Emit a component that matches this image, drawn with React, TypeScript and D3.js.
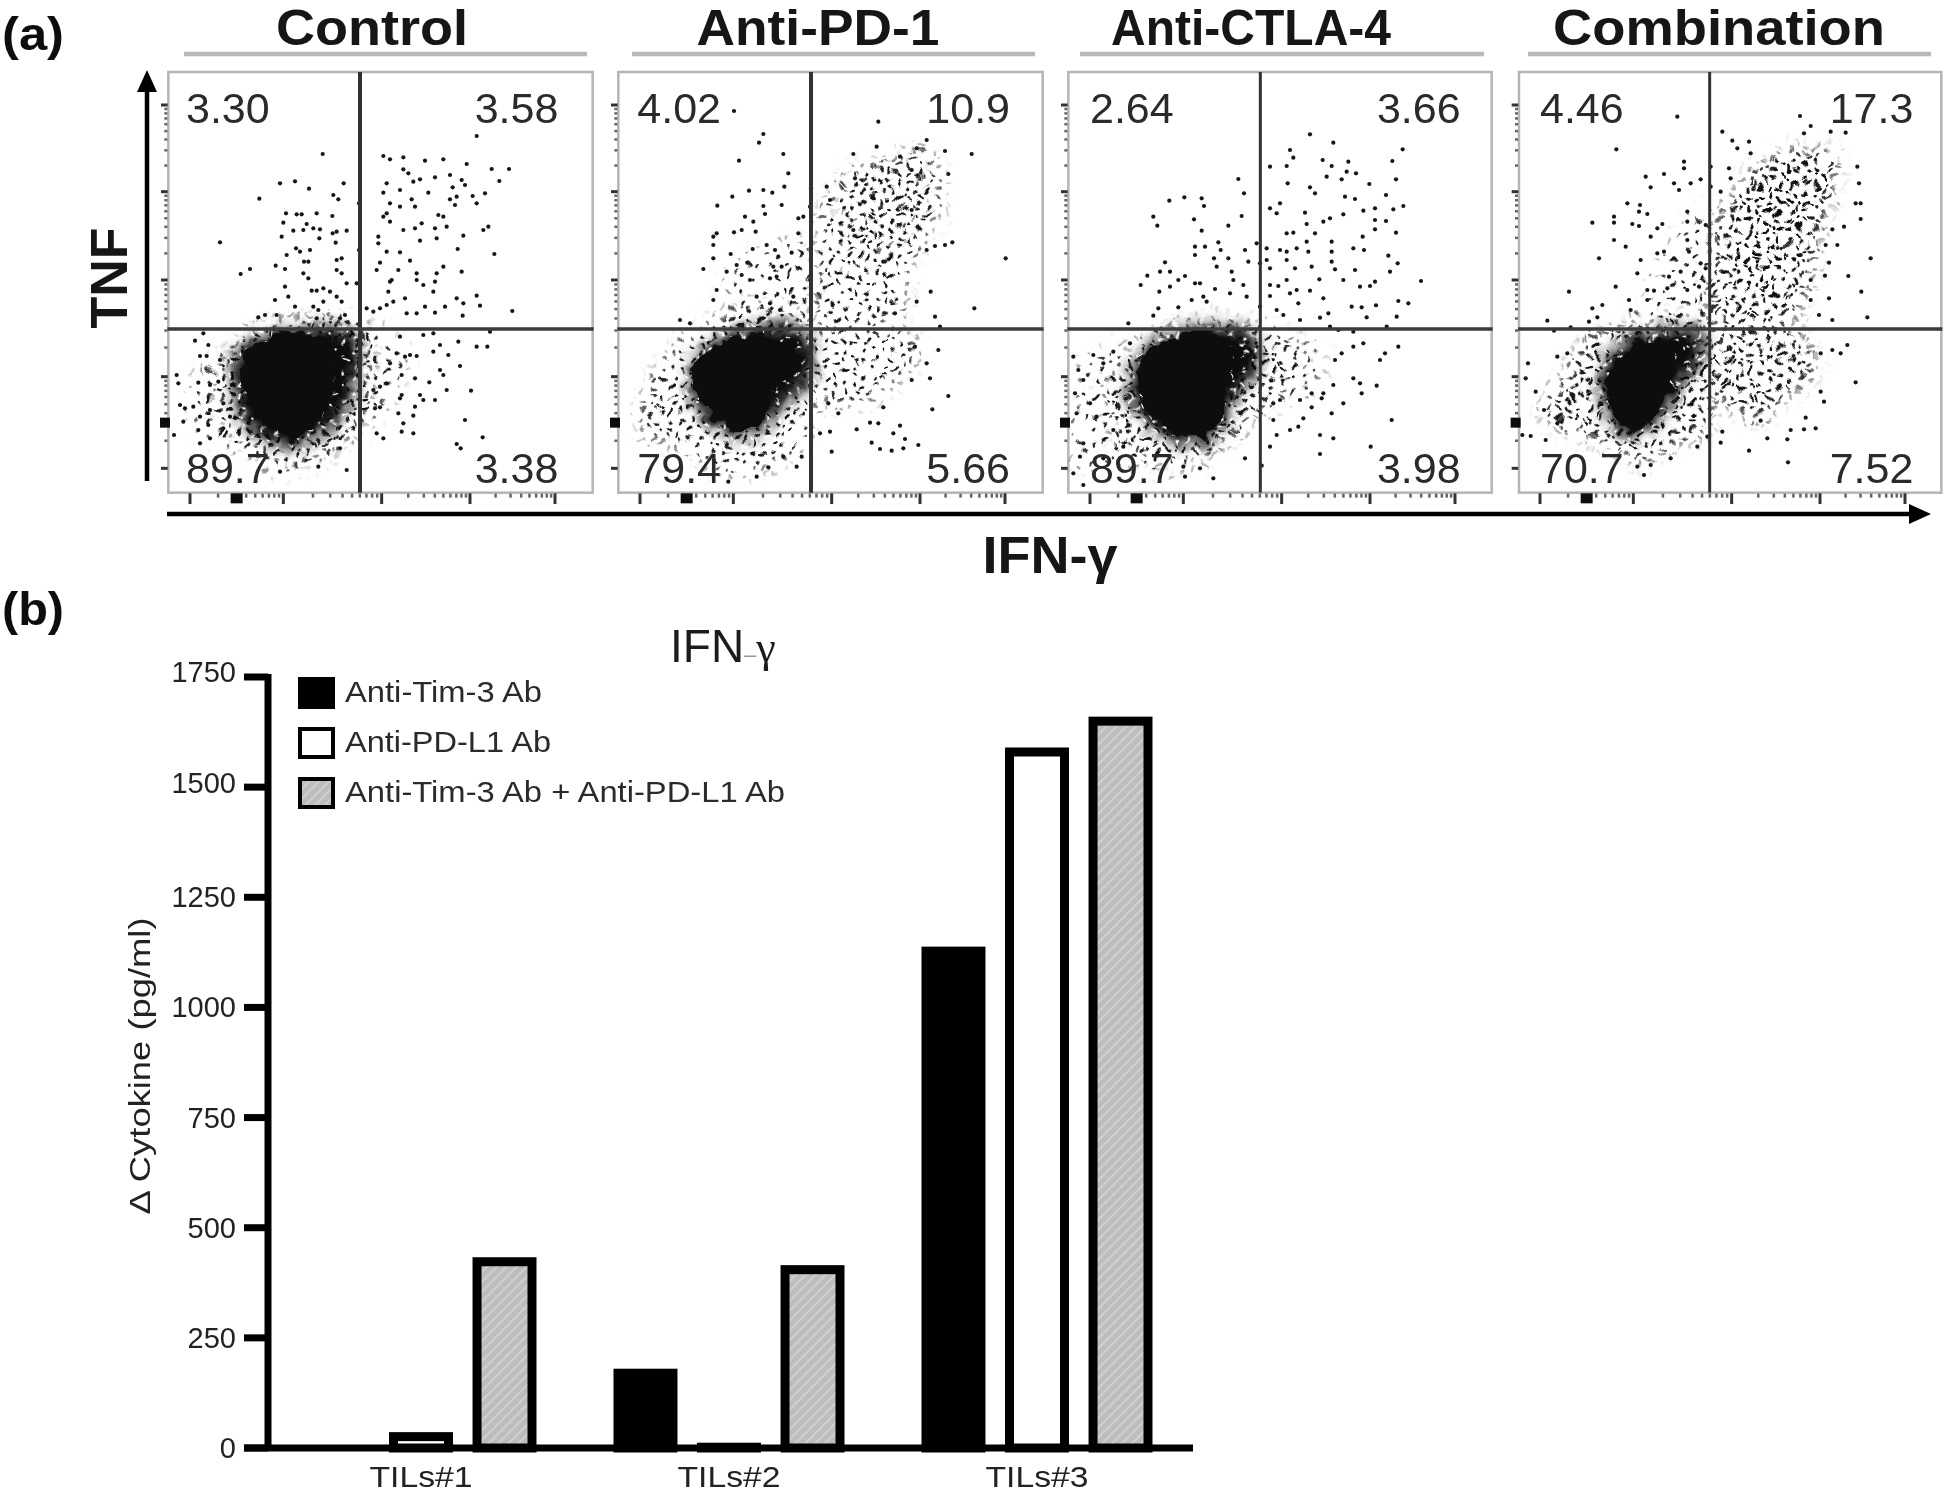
import React from "react";
import * as d3 from "d3";

type P = [number, number];

// ---------- Panel (a): flow plots. All readings are in "channel" units of a 1320x1440 plot frame ----------
const panelNames = ["Control", "Anti-PD-1", "Anti-CTLA-4", "Combination"];
const panelTitleCentres = [372, 818, 1251, 1719];
const panelTitleWidths = [192, 243, 280, 332];
const titleRuleStart = [184, 632, 1080, 1528];
const titleRuleEnd = [587, 1035, 1484, 1931];
const frameLeft = [160, 610, 1060, 1504];
const boxLeft = [25, 25, 25, 45];
const boxRight = [1298, 1298, 1295, 1312];
const gateX = [600, 603, 601, 617];
const gateY = 777;
const boxTop = 6;
const boxBottom = 1268;
const quadUL = ["3.30", "4.02", "2.64", "4.46"];
const quadUR = ["3.58", "10.9", "3.66", "17.3"];
const quadLL = ["89.7", "79.4", "89.7", "70.7"];
const quadLR = ["3.38", "5.66", "3.98", "7.52"];
const labelLeft = [78, 82, 90, 108];
const labelRight = [1195, 1200, 1202, 1228];
const yDecades = [105, 365, 630, 920, 1195];
const xDecades = [90, 370, 665, 930, 1185];
const tickShift = [0, 0, 0, 18];

const controlCore: P[] = [[250, 860], [330, 805], [450, 790], [510, 820], [525, 900], [510, 985], [470, 1060], [420, 1100], [350, 1085], [285, 1030], [245, 950]];
const controlDense: P[] = [[225, 850], [320, 790], [560, 780], [600, 830], [585, 950], [545, 1040], [470, 1105], [400, 1135], [315, 1110], [245, 1050], [220, 960]];
const controlHalo: P[] = [[170, 930], [230, 820], [330, 760], [600, 755], [640, 850], [610, 1050], [500, 1150], [350, 1175], [240, 1110], [180, 1040]];
const controlSparse: P[] = [[90, 960], [190, 840], [320, 765], [610, 760], [740, 860], [680, 1000], [610, 1080], [480, 1180], [350, 1205], [240, 1150], [120, 1090]];

const pd1Core: P[] = [[265, 870], [370, 805], [480, 795], [565, 840], [555, 900], [500, 950], [460, 1050], [400, 1090], [335, 1060], [265, 985], [245, 920]];
const pd1Dense: P[] = [[235, 950], [265, 845], [370, 785], [560, 765], [605, 820], [595, 940], [505, 1020], [430, 1100], [350, 1090], [260, 1020]];
const pd1Sparse: P[] = [[90, 1030], [140, 900], [240, 790], [420, 700], [590, 750], [595, 1100], [470, 1195], [340, 1210], [200, 1130], [110, 1110]];
const pd1Upper: P[] = [[650, 395], [720, 300], [830, 270], [940, 235], [990, 300], [990, 430], [930, 540], [890, 640], [880, 730], [800, 765], [625, 765], [615, 600], [625, 450]];
const pd1UpperCore: P[] = [[720, 320], [900, 285], [945, 340], [900, 470], [810, 545], [710, 500]];
const pd1Lower: P[] = [[615, 790], [895, 790], [935, 850], [850, 945], [760, 1000], [650, 995], [615, 945]];
const pd1Left: P[] = [[350, 610], [480, 530], [595, 510], [595, 755], [390, 755]];

const ctlaCore: P[] = [[245, 870], [390, 785], [490, 800], [525, 865], [500, 965], [470, 1065], [420, 1110], [345, 1085], [280, 1025], [235, 950]];
const ctlaDense: P[] = [[205, 975], [235, 860], [390, 770], [570, 785], [600, 885], [525, 985], [480, 1090], [420, 1125], [320, 1105], [250, 1050]];
const ctlaHalo: P[] = [[130, 950], [220, 840], [400, 750], [590, 765], [740, 850], [690, 945], [600, 1020], [500, 1120], [350, 1175], [210, 1140], [140, 1050]];
const ctlaSparse: P[] = [[45, 1000], [70, 870], [210, 820], [300, 775], [595, 770], [775, 835], [770, 945], [620, 1030], [480, 1140], [340, 1210], [190, 1190], [60, 1190]];

const comboCore: P[] = [[335, 880], [405, 815], [500, 825], [520, 890], [490, 975], [445, 1050], [390, 1080], [330, 1035], [305, 960]];
const comboDense: P[] = [[285, 955], [315, 845], [400, 795], [590, 780], [600, 855], [535, 945], [460, 1060], [380, 1100], [315, 1050]];
const comboSparse: P[] = [[110, 1020], [180, 915], [255, 800], [390, 760], [605, 755], [610, 1080], [500, 1130], [410, 1180], [270, 1110], [150, 1070]];
const comboUpper: P[] = [[640, 440], [770, 280], [870, 240], [990, 250], [1000, 310], [955, 470], [925, 620], [850, 765], [627, 765], [627, 520]];
const comboUpperCore: P[] = [[780, 300], [950, 250], [990, 300], [925, 440], [825, 620], [705, 640], [695, 500]];
const comboLower: P[] = [[627, 790], [890, 790], [935, 900], [830, 1000], [770, 1055], [675, 1015], [627, 955]];
const comboLeft: P[] = [[420, 700], [505, 510], [607, 410], [607, 765], [380, 755]];

const controlDots: P[] = [
  [488,252],[360,340],[405,334],[447,356],[298,386],[551,340],[520,375],[535,388],[180,517],[378,430],[410,433],[425,433],[470,430],[517,438],[370,458],[440,462],[460,475],[400,482],[430,480],[480,478],[518,490],[530,485],[560,482],[365,500],[478,505],[527,518],[408,535],[420,545],[450,540],[380,555],[432,575],[445,575],[530,570],[545,565],[347,587],[375,597],[270,597],[242,612],[530,600],[545,610],[430,610],[445,625],[560,640],[375,650],[455,662],[470,662],[490,655],[510,665],[530,680],[545,695],[385,680],[345,690],[490,695],[405,710],[460,710],[475,720],[350,735],[295,742],[315,735],[470,745],[540,745],[555,735],[597,400],[597,540],[590,640],
  [950,198],[670,258],[690,268],[730,262],[795,272],[850,268],[920,282],[1047,297],[995,297],[730,298],[745,310],[780,328],[825,322],[870,315],[905,330],[915,345],[1018,333],[680,340],[760,335],[878,352],[720,360],[670,368],[805,368],[975,370],[938,378],[870,388],[890,380],[755,388],[720,410],[690,400],[885,405],[950,400],[765,410],[680,430],[835,435],[850,440],[670,440],[690,455],[785,460],[765,475],[825,475],[860,470],[730,480],[970,480],[985,470],[910,497],[655,500],[655,520],[780,512],[830,505],[680,545],[720,547],[750,572],[893,537],[1003,552],[660,578],[715,600],[770,610],[850,590],[830,610],[905,605],[650,600],[690,635],[695,630],[825,635],[770,630],[790,645],[820,665],[685,665],[950,677],[910,700],[960,707],[890,685],[735,685],[700,695],[680,705],[660,715],[1057,723],[825,728],[855,710],[795,710],[908,737],[740,730],[770,730],[640,725],[620,715],
  [735,860],[750,855],[770,858],[840,825],[820,845],[865,855],[900,888],[840,900],[850,915],[725,915],[765,925],[808,937],[950,830],[982,830],[860,960],[933,962],[780,975],[790,990],[725,975],[720,985],[825,990],[765,1010],[660,950],[640,960],[680,940],[645,1015],[660,1012],[760,1037],[715,1030],[915,1050],[730,1060],[968,1102],[890,1122],[902,1135],[760,1090],[725,1085],[650,1090],[670,1105],[690,880],[710,850],[990,785],[820,790],[790,795],[895,815],[720,800],
  [105,812],[130,790],[145,825],[120,858],[140,858],[180,870],[50,915],[55,940],[115,938],[150,945],[175,935],[60,1005],[75,1015],[150,1020],[120,1040],[145,1065],[115,1080],[150,1105],[120,1120],[42,1095],[560,1200],[475,1190],[540,1135],[360,1205],[70,1055],[100,1010],[190,1000],[210,1040],[190,1075],
];

const pd1Dots: P[] = [
  [372,123],[460,192],[447,218],[520,252],[387,272],[535,310],[417,362],[460,360],[487,368],[367,380],[523,350],[515,405],[322,407],[460,408],[465,432],[405,440],[430,455],[580,440],[565,445],[320,490],[310,500],[372,487],[395,480],[437,485],[565,490],[310,525],[428,537],[470,525],[495,540],[545,548],[362,552],[310,565],[505,560],[280,597],[380,585],[412,578],[350,605],[395,615],[420,630],[490,590],[515,590],[500,620],[480,625],[320,660],[310,690],[550,680],[440,680],[480,700],[510,720],[210,750],[240,760],
  [603,355],[600,410],[600,630],[805,155],[950,210],[1005,243],[1085,252],[1015,312],[1027,517],[1187,565],[1093,715],[962,665],[975,740],[990,770],[920,695],[1005,525],[975,528],[950,540],[730,252],[800,230],[870,260],[920,235],[735,325],[905,300],[820,575],[790,385],[905,420],[855,730],[730,480],[660,390],[650,350],
  [1015,978],[967,1018],[780,1058],[805,1060],[870,1067],[850,1090],[885,1107],[925,1125],[785,1118],[810,1137],[845,1142],[880,1135],[665,1145],[820,1012],[740,1078],[655,1000],[685,1030],[960,925],[905,930],[950,880],[985,840],[915,830],[630,1090],[660,1085],[575,1160],[560,1190],[520,1160],[475,1192],[440,1220],[355,1235],
];

const ctlaDots: P[] = [
  [535,327],[552,370],[328,392],[373,382],[425,385],[432,408],[280,440],[292,467],[402,448],[545,438],[505,467],[425,482],[475,517],[405,530],[435,530],[482,540],[405,555],[555,540],[462,565],[505,565],[315,577],[470,590],[565,575],[300,605],[330,605],[262,617],[375,618],[355,630],[515,605],[520,630],[420,640],[405,640],[242,645],[330,650],[298,665],[550,645],[465,657],[510,670],[430,680],[560,680],[395,690],[440,695],[355,712],[295,715],[280,737],[590,520],[600,580],[600,710],[205,760],
  [750,193],[820,218],[690,240],[1028,238],[700,263],[630,290],[680,288],[788,270],[865,275],[815,288],[997,273],[860,305],[888,310],[800,320],[845,328],[683,340],[1008,328],[928,342],[750,352],[765,370],[855,380],[978,375],[885,387],[660,400],[630,415],[650,430],[735,428],[945,415],[910,422],[1030,408],[1000,418],[850,433],[810,445],[790,455],[945,450],[978,453],[740,462],[945,478],[1008,488],[680,490],[700,488],[765,490],[740,515],[815,515],[908,500],[620,535],[660,540],[680,545],[710,535],[745,545],[880,535],[815,545],[912,540],[815,575],[985,557],[1013,580],[620,570],[680,570],[630,595],[705,595],[755,590],[885,600],[990,605],[825,598],[778,628],[850,630],[1083,633],[945,635],[930,648],[630,645],[680,630],[655,648],[710,660],[750,662],[790,685],[900,650],[690,670],[715,700],[630,678],[875,710],[905,712],[948,706],[1015,693],[1045,700],[920,742],[1010,740],[670,735],[720,750],[780,743],[805,730],[650,720],
  [835,780],[880,785],[980,770],[810,770],[910,820],[880,830],[845,850],[1015,830],[975,850],[960,870],[825,870],[880,925],[900,940],[950,947],[905,970],[820,945],[790,970],[755,970],[785,985],[850,1000],[815,1030],[755,1012],[720,990],[730,1045],[660,990],[640,1000],[640,1050],[995,1050],[715,1070],[690,1080],[780,1095],[820,1105],[650,1095],[630,1130],[932,1130],[780,1152],[605,1187],
  [40,860],[100,855],[160,845],[210,820],[55,900],[70,930],[130,880],[45,970],[90,1000],[50,1030],[110,1040],[70,1120],[160,1080],[190,1130],[60,1160],[130,1165],[40,1210],[70,1245],[370,1190],[420,1195],[375,1220],[460,1225],[555,1165],
];

const comboDots: P[] = [
  [520,140],[337,238],[888,138],[920,168],[655,185],[900,190],[980,185],[1025,188],[685,212],[735,215],[700,235],[540,275],[540,295],[620,290],[740,250],[675,295],[425,320],[480,312],[440,352],[510,340],[525,360],[560,340],[590,328],[620,350],[650,365],[680,325],[370,400],[408,405],[430,432],[405,425],[265,458],[330,440],[330,458],[385,462],[405,468],[460,475],[475,462],[550,455],[550,425],[605,465],[330,510],[440,500],[550,510],[365,530],[285,565],[460,550],[555,545],[410,570],[480,545],[510,565],[590,580],[400,610],[530,605],[495,620],[605,595],[335,650],[195,665],[430,660],[450,662],[490,655],[550,660],[585,650],[430,690],[295,705],[375,690],[265,715],[380,720],[130,752],[255,755],[280,742],[150,782],[200,772],
  [1060,290],[1065,340],[1055,400],[1070,400],[1070,447],[1020,470],[985,478],[965,525],[1000,525],[1100,565],[975,578],[1033,618],[963,617],[1072,665],[920,630],[975,685],[1090,742],[985,750],[920,690],[945,735],[890,555],
  [1030,825],[985,840],[1010,850],[950,850],[1055,937],[950,965],[960,995],[905,1043],[935,1075],[900,1078],[860,1080],[790,1105],[850,1108],[735,1142],[852,1177],[770,1052],[655,1085],[650,1118],[610,1100],[580,1130],[500,1165],[440,1185],[420,1215],[400,1190],[65,925],[72,880],[95,965],[55,1095],[80,1098],[125,1110],[160,1060],[120,1020],[190,850],[160,860],
];

const panelDots = [controlDots, pd1Dots, ctlaDots, comboDots];

// density areas per panel, drawn beneath the individual dots: [outline, shading]
const densityAreas: [P[], string][][] = [
  [[controlSparse, "sparse"], [controlHalo, "medium"], [controlDense, "dense"], [controlCore, "core"]],
  [[pd1Sparse, "light"], [pd1Left, "sparse"], [pd1Upper, "light"], [pd1Lower, "light"], [pd1UpperCore, "sparse"], [pd1Dense, "dense"], [pd1Core, "core"]],
  [[ctlaSparse, "sparse"], [ctlaHalo, "light"], [ctlaDense, "dense"], [ctlaCore, "core"]],
  [[comboSparse, "medium"], [comboLeft, "sparse"], [comboUpper, "medium"], [comboLower, "medium"], [comboUpperCore, "light"], [comboDense, "dense"], [comboCore, "core"]],
];

// hand-placed speckle tiles that shade the density areas
const speckleTile: P[] = [[3,5],[12,2],[22,7],[31,3],[41,6],[52,2],[60,8],[7,13],[17,15],[27,12],[36,14],[47,13],[57,16],[2,22],[13,24],[23,21],[33,25],[43,22],[53,26],[62,23],[8,31],[18,33],[28,30],[38,34],[48,31],[58,35],[4,41],[14,43],[24,40],[34,44],[44,41],[54,45],[61,40],[9,51],[20,53],[30,50],[40,54],[50,51],[59,55],[5,60],[16,62],[26,60],[37,62],[47,60],[56,63]];
const thinTile: P[] = [[5,6],[17,3],[29,8],[40,4],[11,15],[24,17],[36,14],[3,24],[16,27],[30,25],[42,28],[9,35],[22,38],[35,36]];
const fleckTile: P[] = [[5,4],[18,9],[30,3],[9,16],[25,18],[36,24],[3,27],[15,30],[28,33],[20,22],[33,12]];

// ---------- Panel (b): bars ----------
const groups = ["TILs#1", "TILs#2", "TILs#3"];
const seriesNames = ["Anti-Tim-3 Ab", "Anti-PD-L1 Ab", "Anti-Tim-3 Ab + Anti-PD-L1 Ab"];
const antiTim3 = [0, 180, 1138];
const antiPdl1 = [36, 12, 1590];
const combined = [433, 415, 1660];
const seriesValues = [antiTim3, antiPdl1, combined];
const yTicks = [0, 250, 500, 750, 1000, 1250, 1500, 1750];
const yTickNudge = [0, 0, 0, 0, 0, 0, -4, -5];

const sans = "'Liberation Sans', Arial, sans-serif";

export default function App() {
  const yB = d3.scaleLinear().domain([0, 1750]).range([1448, 677]);
  const xG = d3.scaleBand<string>().domain(groups).range([267, 1191]).paddingInner(0.25).paddingOuter(0.125);
  const xS = d3.scaleBand<string>().domain(seriesNames).range([0, xG.bandwidth()]).paddingInner(0.234);
  const yA = d3.scaleLinear().domain([0, 1440]).range([70, 550]);
  const blob = d3.line().curve(d3.curveCatmullRomClosed);
  const wall = 9;

  const layers: Record<string, string[]> = {
    sparse: ["url(#tThin)"],
    light: ["url(#tA)"],
    medium: ["url(#tA)", "url(#tThin)"],
    dense: ["url(#tFleck)"],
  };

  const tile = (id: string, size: number, dots: P[], r: number, rot: number, bg?: string, ink = "#111") => (
    <pattern key={id} id={id} width={size} height={size} patternUnits="userSpaceOnUse" patternTransform={`rotate(${rot})`}>
      {bg ? <rect width={size} height={size} fill={bg} /> : null}
      {dots.map((d, i) => <circle key={i} cx={d[0]} cy={d[1]} r={r} fill={ink} />)}
    </pattern>
  );

  return (
    <svg width={1944} height={1494} viewBox="0 0 1944 1494" style={{ position: "absolute", left: 0, top: 0, display: "block", background: "#fff" }} fontFamily={sans}>
      <defs>
        {tile("tA", 64, speckleTile, 2.0, -24)}
        {tile("tThin", 46, thinTile, 1.9, 31)}
        {tile("tFleck", 36, fleckTile, 1.8, 17, "#111", "#f2f2f2")}
        <pattern id="hatch" width={7} height={7} patternUnits="userSpaceOnUse" patternTransform="rotate(45)">
          <rect width={7} height={7} fill="#bdbdbd" />
          <rect width={2.2} height={7} fill="#cfcfcf" />
        </pattern>
        <filter id="soft" x="-2%" y="-2%" width="104%" height="104%"><feGaussianBlur stdDeviation={0.7} /></filter>
        <filter id="softB" x="-2%" y="-2%" width="104%" height="104%"><feGaussianBlur stdDeviation={0.55} /></filter>
        <filter id="feather" filterUnits="userSpaceOnUse" x={0} y={0} width={1944} height={600}><feGaussianBlur stdDeviation={7} /></filter>
        <filter id="rough" filterUnits="userSpaceOnUse" x={0} y={0} width={1944} height={600}>
          <feTurbulence type="fractalNoise" baseFrequency={0.07} numOctaves={2} seed={7} result="n" />
          <feDisplacementMap in="SourceGraphic" in2="n" scale={16} xChannelSelector="R" yChannelSelector="G" />
        </filter>
      </defs>

      <g filter="url(#soft)">
        <text x={2} y={50} fontSize={46} fontWeight={700} fill="#111" textLength={62} lengthAdjust="spacingAndGlyphs">(a)</text>

        {panelNames.map((name, i) => {
          const xA = d3.scaleLinear().domain([0, 1320]).range([frameLeft[i], frameLeft[i] + 440]);
          const shift = tickShift[i];
          const xMinor = xDecades.slice(0, -1).flatMap((m, k) => [2, 3, 4, 5, 6, 7, 8, 9].map((n) => m + Math.log10(n) * (xDecades[k + 1] - m)));
          const yMinor = yDecades.slice(0, -1).flatMap((m, k) => [2, 3, 4, 5, 6, 7, 8, 9].map((n) => yDecades[k + 1] - Math.log10(n) * (yDecades[k + 1] - m)));
          const outlines = densityAreas[i].map(([outline]) => blob(outline.map((p) => [xA(p[0]), yA(p[1])] as P)) ?? "");
          return (
            <g key={name}>
              <text x={panelTitleCentres[i]} y={45} textAnchor="middle" fontSize={50} fontWeight={700} fill="#141414" textLength={panelTitleWidths[i]} lengthAdjust="spacingAndGlyphs">{name}</text>
              <line x1={titleRuleStart[i]} x2={titleRuleEnd[i]} y1={54} y2={54} stroke="#b9b9b9" strokeWidth={4.5} />

              <rect x={xA(boxLeft[i])} y={yA(boxTop)} width={xA(boxRight[i]) - xA(boxLeft[i])} height={yA(boxBottom) - yA(boxTop)} fill="#fff" stroke="#b5b5b5" strokeWidth={2.5} />

              <defs>
                {outlines.map((d, k) => (
                  <mask key={k} id={`m${i}-${k}`} maskUnits="userSpaceOnUse" x={0} y={0} width={1944} height={600}>
                    <path d={d} fill="#fff" filter="url(#feather)" />
                  </mask>
                ))}
              </defs>
              <g filter="url(#rough)">
                {densityAreas[i].map(([, kind], k) =>
                  kind === "core" ? (
                    <path key={k} d={outlines[k]} fill="#0d0a0c" />
                  ) : (
                    <g key={k} mask={`url(#m${i}-${k})`}>
                      {layers[kind].map((fill, l) => (
                        <rect key={l} x={xA(boxLeft[i])} y={yA(boxTop)} width={xA(boxRight[i]) - xA(boxLeft[i])} height={yA(boxBottom) - yA(boxTop)} fill={fill} />
                      ))}
                    </g>
                  )
                )}
              </g>
              {panelDots[i].map((d, k) => <circle key={k} cx={xA(d[0])} cy={yA(d[1])} r={2.1} fill="#151515" />)}

              <line x1={xA(gateX[i])} x2={xA(gateX[i])} y1={yA(boxTop)} y2={yA(boxBottom)} stroke="#333" strokeWidth={i < 2 ? 4 : 3} />
              <line x1={xA(boxLeft[i] - 3)} x2={xA(boxRight[i] + 3)} y1={yA(gateY)} y2={yA(gateY)} stroke="#3a3a3a" strokeWidth={3.5} />

              <text x={xA(labelLeft[i])} y={123} fontSize={43} fill="#2a2a2a">{quadUL[i]}</text>
              <text x={xA(labelRight[i])} y={123} fontSize={43} fill="#2a2a2a" textAnchor="end">{quadUR[i]}</text>
              <text x={xA(labelLeft[i])} y={483} fontSize={43} fill="#2a2a2a">{quadLL[i]}</text>
              <text x={xA(labelRight[i])} y={483} fontSize={43} fill="#2a2a2a" textAnchor="end">{quadLR[i]}</text>

              {yDecades.map((t) => <line key={t} x1={xA(boxLeft[i] - 22)} x2={xA(boxLeft[i] - 2)} y1={yA(t)} y2={yA(t)} stroke="#333" strokeWidth={3} />)}
              {yMinor.map((t, k) => <line key={k} x1={xA(boxLeft[i] - 12)} x2={xA(boxLeft[i] - 3)} y1={yA(t)} y2={yA(t)} stroke="#666" strokeWidth={2.5} />)}
              <rect x={xA(boxLeft[i] - 25)} y={yA(1058) - 5} width={10} height={10} fill="#111" />

              {xDecades.map((t) => <line key={t} x1={xA(t + shift)} x2={xA(t + shift)} y1={yA(boxBottom + 2)} y2={yA(boxBottom + 34)} stroke="#333" strokeWidth={3} />)}
              {xMinor.map((t, k) => <line key={k} x1={xA(t + shift)} x2={xA(t + shift)} y1={yA(boxBottom + 3)} y2={yA(boxBottom + 15)} stroke="#666" strokeWidth={2.5} />)}
              <rect x={xA(230 + shift) - 6} y={yA(1285) - 5} width={12} height={10} fill="#111" />
            </g>
          );
        })}

        <line x1={147} x2={147} y1={481} y2={84} stroke="#000" strokeWidth={4.5} />
        <path d={d3.line()([[147, 70], [157, 92], [137, 92]]) + "Z"} fill="#000" />
        <line x1={167} x2={1915} y1={514} y2={514} stroke="#000" strokeWidth={4.5} />
        <path d={d3.line()([[1931, 514], [1909, 504], [1909, 524]]) + "Z"} fill="#000" />

        <text transform="translate(127,278) rotate(-90)" textAnchor="middle" fontSize={52} fontWeight={700} fill="#141414">TNF</text>
        <text x={1050} y={573} textAnchor="middle" fontSize={52} fontWeight={700} fill="#141414" textLength={135} lengthAdjust="spacingAndGlyphs">IFN-γ</text>
      </g>

      <g filter="url(#softB)">
        <text x={2} y={625} fontSize={46} fontWeight={700} fill="#111" textLength={62} lengthAdjust="spacingAndGlyphs">(b)</text>

        <text x={670} y={662} fontSize={46} fill="#1a1a1a">IFN<tspan fontSize={22} fill="#999">–</tspan><tspan fontFamily="'Liberation Serif', serif" fontSize={44}>γ</tspan></text>

        {seriesNames.map((s, k) => {
          const top = [677, 727, 777][k];
          return (
            <g key={s}>
              <rect x={300} y={top + 2} width={33} height={28} fill={["#000", "#fff", "url(#hatch)"][k]} stroke="#000" strokeWidth={4} />
              <text x={345} y={top + 25} fontSize={29} fill="#2c2c2c" textLength={[197, 206, 440][k]} lengthAdjust="spacingAndGlyphs">{s}</text>
            </g>
          );
        })}

        {groups.map((g, gi) => (
          <g key={g}>
            {seriesNames.map((s, si) => {
              const v = seriesValues[si][gi];
              if (v === 0) return null;
              const left = (xG(g) ?? 0) + (xS(s) ?? 0);
              const w = xS.bandwidth();
              return (
                <rect key={s} x={left + wall / 2} y={yB(v) + wall / 2} width={w - wall} height={Math.max(0, yB(0) - yB(v) - wall / 2)}
                  fill={["#000", "#fff", "url(#hatch)"][si]} stroke="#000" strokeWidth={wall} />
              );
            })}
            <text x={(xG(g) ?? 0) + xG.bandwidth() / 2} y={1487} textAnchor="middle" fontSize={29} fill="#222" textLength={103} lengthAdjust="spacingAndGlyphs">{g}</text>
          </g>
        ))}

        <line x1={268} x2={268} y1={yB(1750) - 3} y2={yB(0) + 3} stroke="#000" strokeWidth={7} />
        <line x1={244} x2={1193} y1={yB(0)} y2={yB(0)} stroke="#000" strokeWidth={7} />
        {yTicks.map((t, k) => (
          <g key={t}>
            <line x1={244} x2={268} y1={yB(t)} y2={yB(t)} stroke="#000" strokeWidth={7} />
            <text x={236} y={yB(t) + 10 + yTickNudge[k]} textAnchor="end" fontSize={29} fill="#222">{t}</text>
          </g>
        ))}

        <text transform="translate(150,1066) rotate(-90)" textAnchor="middle" fontSize={30} fill="#222" textLength={297} lengthAdjust="spacingAndGlyphs">Δ  Cytokine (pg/ml)</text>
      </g>
    </svg>
  );
}
